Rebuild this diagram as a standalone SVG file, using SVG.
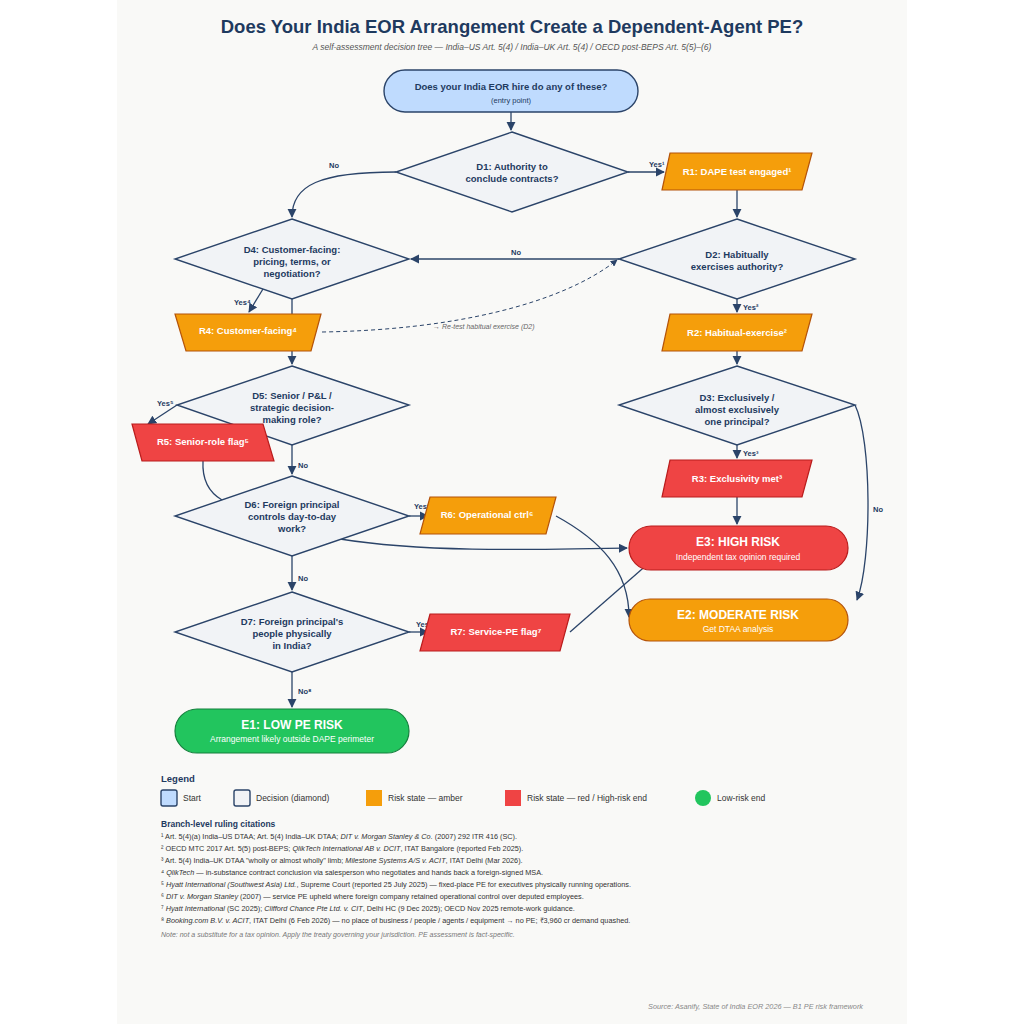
<svg xmlns="http://www.w3.org/2000/svg" width="1024" height="1024" viewBox="0 0 1024 1024">
<defs>
<marker id="ar" viewBox="0 0 10 10" refX="9" refY="5" markerWidth="7" markerHeight="7" orient="auto-start-reverse"><path d="M0,0 L10,5 L0,10 z" fill="#2b4469"/></marker>
<style>
text{font-family:"Liberation Sans",Arial,sans-serif}
.dia{fill:#f1f3f6;stroke:#2b4469;stroke-width:1.4}
.amb{fill:#f59e0b;stroke:#b45309;stroke-width:1.2}
.red{fill:#ef4444;stroke:#b91c1c;stroke-width:1.2}
.grn{fill:#22c55e;stroke:#15803d;stroke-width:1.2}
.st{fill:#bfdbfe;stroke:#2b4469;stroke-width:1.4}
.dt{font-size:9.5px;font-weight:bold;fill:#1e3a5f;text-anchor:middle}
.wt{font-size:9.5px;font-weight:bold;fill:#fff;text-anchor:middle}
.et{font-size:12px;font-weight:bold;fill:#fff;text-anchor:middle}
.es{font-size:8.5px;fill:#fff;text-anchor:middle}
.lb{font-size:7.5px;font-weight:bold;fill:#1e3a5f}
.ln{fill:none;stroke:#2b4469;stroke-width:1.3}
.cit{font-size:7.3px;fill:#333}
.lg{font-size:8.5px;fill:#333}
</style>
</defs>
<rect width="1024" height="1024" fill="#fff"/>
<rect x="117" y="0" width="790" height="1024" fill="#f9f9f7"/>
<text x="512" y="33" font-size="18.5" font-weight="bold" fill="#1e3a5f" text-anchor="middle">Does Your India EOR Arrangement Create a Dependent-Agent PE?</text>
<text x="512" y="50" font-size="8.5" font-style="italic" fill="#555" text-anchor="middle">A self-assessment decision tree — India–US Art. 5(4) / India–UK Art. 5(4) / OECD post-BEPS Art. 5(5)–(6)</text>

<g id="connectors">
<path class="ln" d="M511,112 V130" marker-end="url(#ar)"/>
<path class="ln" d="M628,172 H664" marker-end="url(#ar)"/>
<text class="lb" x="649" y="167">Yes¹</text>
<path class="ln" d="M396,172 C320,172 292,185 292,217" marker-end="url(#ar)"/>
<text class="lb" x="329" y="168">No</text>
<path class="ln" d="M737,190 V217" marker-end="url(#ar)"/>
<path class="ln" d="M619,259 H411" marker-end="url(#ar)"/>
<text class="lb" x="511" y="255">No</text>
<path class="ln" d="M737,299 V312" marker-end="url(#ar)"/>
<text class="lb" x="743" y="310">Yes²</text>
<path class="ln" d="M737,351 V364" marker-end="url(#ar)"/>
<path class="ln" d="M737,445 V458" marker-end="url(#ar)"/>
<text class="lb" x="743" y="456">Yes³</text>
<path class="ln" d="M737,497 V524" marker-end="url(#ar)"/>
<path class="ln" d="M855,405 C872,440 872,560 857,600" marker-end="url(#ar)"/>
<text class="lb" x="873" y="512">No</text>
<path class="ln" d="M292,299 V364" marker-end="url(#ar)"/>
<text class="lb" x="298" y="333">No</text>
<path class="ln" d="M263,289 L249,312" marker-end="url(#ar)"/>
<text class="lb" x="234" y="305">Yes⁴</text>
<path d="M322,332 C450,330 560,305 617,260" fill="none" stroke="#2b4469" stroke-width="1" stroke-dasharray="4,3" marker-end="url(#ar)"/>
<text x="433" y="329" font-size="7" font-style="italic" fill="#666">→ Re-test habitual exercise (D2)</text>
<path class="ln" d="M177,405 L148,424" marker-end="url(#ar)"/>
<text class="lb" x="157" y="406">Yes⁵</text>
<path class="ln" d="M292,445 V474" marker-end="url(#ar)"/>
<text class="lb" x="298" y="468">No</text>
<path class="ln" d="M203,461 C202,480 210,493 222,500"/>
<path class="ln" d="M409,516 H428" marker-end="url(#ar)"/>
<text class="lb" x="414" y="509">Yes⁶</text>
<path class="ln" d="M340,539 C420,552 520,550 627,548" marker-end="url(#ar)"/>
<path class="ln" d="M556,516 C600,540 629,570 629,617" marker-end="url(#ar)"/>
<path class="ln" d="M292,556 V590" marker-end="url(#ar)"/>
<text class="lb" x="298" y="581">No</text>
<path class="ln" d="M409,632 H428" marker-end="url(#ar)"/>
<text class="lb" x="416" y="627">Yes⁷</text>
<path class="ln" d="M570,632 L665,549" marker-end="url(#ar)"/>
<path class="ln" d="M292,672 V707" marker-end="url(#ar)"/>
<text class="lb" x="298" y="694">No⁸</text>
</g>

<g id="start"><rect class="st" x="384" y="70" width="254" height="42" rx="21"/>
<text class="dt" x="511" y="90">Does your India EOR hire do any of these?</text>
<text x="511" y="103" font-size="7.5" fill="#1e3a5f" text-anchor="middle">(entry point)</text></g>

<g id="D1"><polygon class="dia" points="512,132 628,172 512,212 396,172"/>
<text class="dt" x="512" y="170">D1: Authority to</text><text class="dt" x="512" y="182">conclude contracts?</text></g>
<g id="R1"><polygon class="amb" points="670,153 812,153 802,190 662,190"/>
<text class="wt" x="737" y="175">R1: DAPE test engaged¹</text></g>
<g id="D2"><polygon class="dia" points="737,219 855,259 737,299 619,259"/>
<text class="dt" x="737" y="258">D2: Habitually</text><text class="dt" x="737" y="270">exercises authority?</text></g>
<g id="R2"><polygon class="amb" points="670,314 812,314 802,351 662,351"/>
<text class="wt" x="737" y="336">R2: Habitual-exercise²</text></g>
<g id="D3"><polygon class="dia" points="737,366 855,405 737,445 619,405"/>
<text class="dt" x="737" y="401">D3: Exclusively /</text><text class="dt" x="737" y="413">almost exclusively</text><text class="dt" x="737" y="425">one principal?</text></g>
<g id="R3"><polygon class="red" points="670,460 812,460 802,497 662,497"/>
<text class="wt" x="737" y="482">R3: Exclusivity met³</text></g>
<g id="E3"><rect class="red" x="629" y="526" width="219" height="44" rx="22"/>
<text class="et" x="738" y="546">E3: HIGH RISK</text><text class="es" x="738" y="560">Independent tax opinion required</text></g>
<g id="E2"><rect class="amb" x="629" y="599" width="219" height="42" rx="21"/>
<text class="et" x="738" y="619">E2: MODERATE RISK</text><text class="es" x="738" y="632">Get DTAA analysis</text></g>

<g id="D4"><polygon class="dia" points="292,219 409,259 292,299 175,259"/>
<text class="dt" x="292" y="253">D4: Customer-facing:</text><text class="dt" x="292" y="265">pricing, terms, or</text><text class="dt" x="292" y="277">negotiation?</text></g>
<g id="R4"><polygon class="amb" points="175,314 321,314 311,351 186,351"/>
<text class="wt" x="248" y="334">R4: Customer-facing⁴</text></g>
<g id="D5"><polygon class="dia" points="292,366 409,405 292,445 177,405"/>
<text class="dt" x="292" y="399">D5: Senior / P&amp;L /</text><text class="dt" x="292" y="411">strategic decision-</text><text class="dt" x="292" y="423">making role?</text></g>
<g id="R5"><polygon class="red" points="132,424 263,424 274,461 142,461"/>
<text class="wt" x="203" y="445">R5: Senior-role flag⁵</text></g>
<g id="D6"><polygon class="dia" points="292,476 409,516 292,556 175,516"/>
<text class="dt" x="292" y="508">D6: Foreign principal</text><text class="dt" x="292" y="520">controls day-to-day</text><text class="dt" x="292" y="532">work?</text></g>
<g id="R6"><polygon class="amb" points="430,497 556,497 546,534 420,534"/>
<text class="wt" x="487" y="518">R6: Operational ctrl⁶</text></g>
<g id="D7"><polygon class="dia" points="292,592 409,632 292,672 175,632"/>
<text class="dt" x="292" y="625">D7: Foreign principal's</text><text class="dt" x="292" y="637">people physically</text><text class="dt" x="292" y="649">in India?</text></g>
<g id="R7"><polygon class="red" points="430,614 570,614 560,651 420,651"/>
<text class="wt" x="496" y="635">R7: Service-PE flag⁷</text></g>
<g id="E1"><rect class="grn" x="175" y="709" width="234" height="44" rx="22"/>
<text class="et" x="292" y="729">E1: LOW PE RISK</text><text class="es" x="292" y="742">Arrangement likely outside DAPE perimeter</text></g>

<g id="legend">
<text x="161" y="782" font-size="9.5" font-weight="bold" fill="#1e3a5f">Legend</text>
<rect x="161" y="790" width="16" height="16" rx="2" class="st"/><text class="lg" x="183" y="801">Start</text>
<rect x="234" y="790" width="16" height="16" rx="2" class="dia"/><text class="lg" x="256" y="801">Decision (diamond)</text>
<rect x="366" y="790" width="16" height="16" fill="#f59e0b"/><text class="lg" x="388" y="801">Risk state — amber</text>
<rect x="505" y="790" width="16" height="16" fill="#ef4444"/><text class="lg" x="527" y="801">Risk state — red / High-risk end</text>
<circle cx="703" cy="798" r="8" fill="#22c55e"/><text class="lg" x="717" y="801">Low-risk end</text>
<text x="161" y="827" font-size="8.5" font-weight="bold" fill="#1e3a5f">Branch-level ruling citations</text>
<text class="cit" x="161" y="839">¹ Art. 5(4)(a) India–US DTAA; Art. 5(4) India–UK DTAA; <tspan font-style="italic">DIT v. Morgan Stanley &amp; Co.</tspan> (2007) 292 ITR 416 (SC).</text>
<text class="cit" x="161" y="851">² OECD MTC 2017 Art. 5(5) post-BEPS; <tspan font-style="italic">QlikTech International AB v. DCIT</tspan>, ITAT Bangalore (reported Feb 2025).</text>
<text class="cit" x="161" y="863">³ Art. 5(4) India–UK DTAA "wholly or almost wholly" limb; <tspan font-style="italic">Milestone Systems A/S v. ACIT</tspan>, ITAT Delhi (Mar 2026).</text>
<text class="cit" x="161" y="875">⁴ <tspan font-style="italic">QlikTech</tspan> — in-substance contract conclusion via salesperson who negotiates and hands back a foreign-signed MSA.</text>
<text class="cit" x="161" y="887">⁵ <tspan font-style="italic">Hyatt International (Southwest Asia) Ltd.</tspan>, Supreme Court (reported 25 July 2025) — fixed-place PE for executives physically running operations.</text>
<text class="cit" x="161" y="899">⁶ <tspan font-style="italic">DIT v. Morgan Stanley</tspan> (2007) — service PE upheld where foreign company retained operational control over deputed employees.</text>
<text class="cit" x="161" y="911">⁷ <tspan font-style="italic">Hyatt International</tspan> (SC 2025); <tspan font-style="italic">Clifford Chance Pte Ltd. v. CIT</tspan>, Delhi HC (9 Dec 2025); OECD Nov 2025 remote-work guidance.</text>
<text class="cit" x="161" y="923">⁸ <tspan font-style="italic">Booking.com B.V. v. ACIT</tspan>, ITAT Delhi (6 Feb 2026) — no place of business / people / agents / equipment → no PE; ₹3,960 cr demand quashed.</text>
<text x="161" y="937" font-size="7" font-style="italic" fill="#777">Note: not a substitute for a tax opinion. Apply the treaty governing your jurisdiction. PE assessment is fact-specific.</text>
<text x="863" y="1009" font-size="7.3" font-style="italic" fill="#888" text-anchor="end">Source: Asanify, State of India EOR 2026 — B1 PE risk framework</text>
</g>
</svg>
